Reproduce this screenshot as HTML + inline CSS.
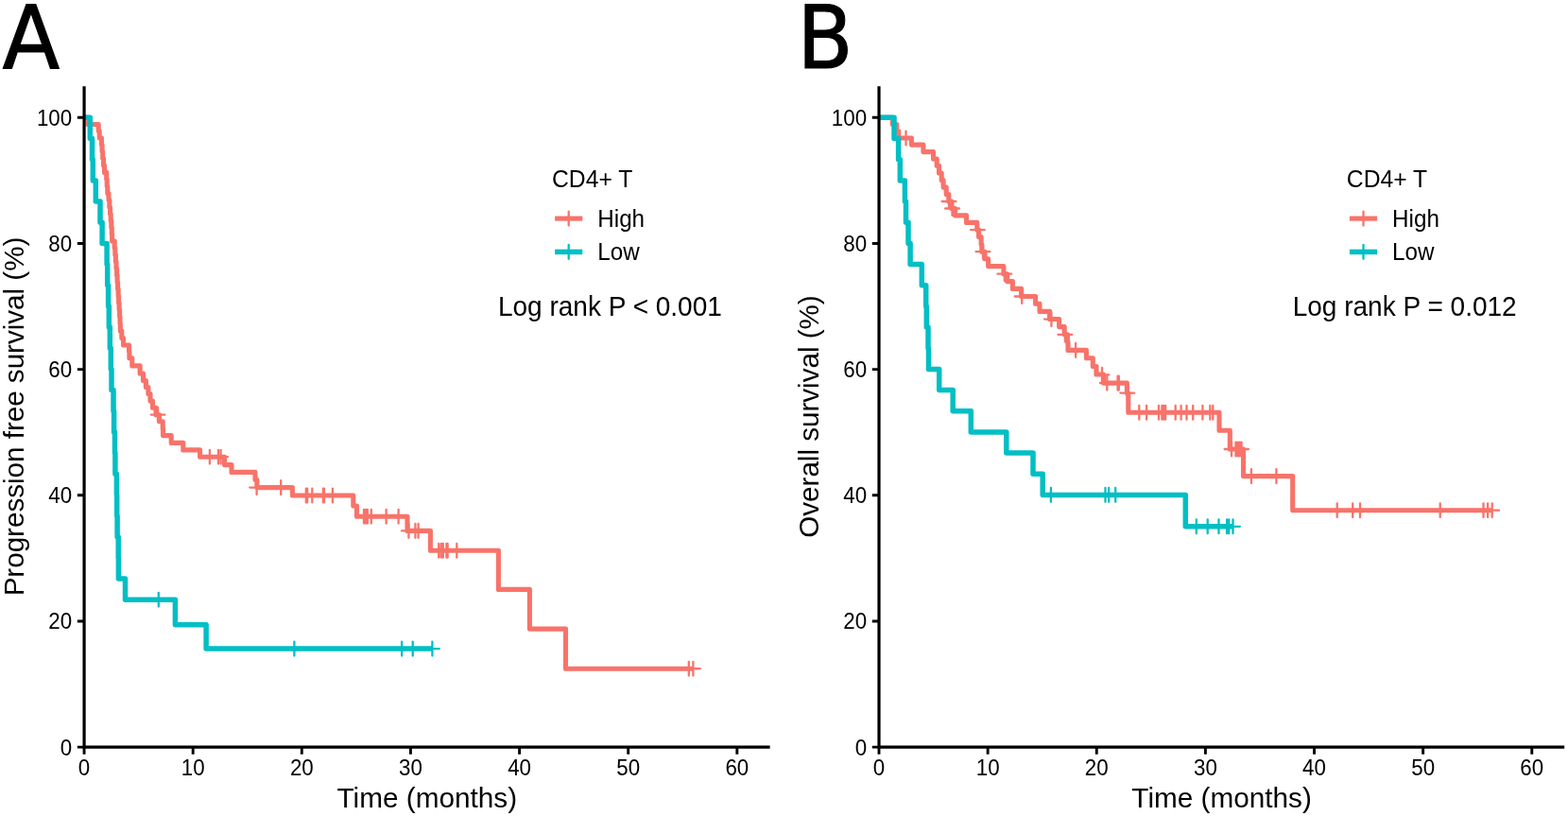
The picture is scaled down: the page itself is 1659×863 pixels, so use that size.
<!DOCTYPE html>
<html lang="en">
<head>
<meta charset="utf-8">
<title>Kaplan-Meier survival curves by CD4+ T level</title>
<style>
html,body{margin:0;padding:0;background:#fff;}
body{width:1659px;height:863px;overflow:hidden;}
svg{display:block;}
text{font-family:"Liberation Sans",Arial,Helvetica,sans-serif;fill:#000;}
.tk{font-size:22px;}
.at{font-size:29.6px;}
.lt{font-size:25.4px;}
.pv{font-size:28.3px;}
.pl{font-family:"DejaVu Sans","Liberation Sans",sans-serif;font-size:91.9px;stroke:#000;stroke-width:1.1px;stroke-linejoin:round;}
</style>
</head>
<body>
<svg width="1659" height="863" viewBox="0 0 1659 863">
<rect x="0" y="0" width="1659" height="863" fill="#ffffff"/>
<g id="panelA">
<text class="pl" transform="translate(2.6,71.5) scale(0.966,1)">A</text>
<path d="M89.05,124.30H93.00V131.50H104.20V138.60H105.20V145.80H107.40V153.00H108.00V160.30H108.70V167.50H109.50V175.00H110.50V182.40H112.70V189.60H113.20V197.00H113.80V204.50H115.00V211.60H115.80V219.00H116.50V226.20H117.20V233.50H117.80V240.70H118.30V247.90H118.60V255.00H121.20V262.30H121.80V269.50H122.40V276.80H123.00V284.00H123.60V291.20H124.10V298.50H124.60V305.80H125.10V313.00H125.60V320.30H126.10V327.60H126.60V334.90H127.00V342.30H127.30V350.00H128.80V357.50H130.50V365.00H136.50V371.80H136.90V378.80H139.80V386.90H148.10V395.00H151.50V402.50H154.40V409.50H156.90V416.60H159.00V424.00H161.50V431.30H165.00V438.70H168.50V445.80H172.20V453.20H172.50V460.60H181.20V468.40H193.80V475.90H211.60V483.20H237.50V491.60H245.00V499.40H270.00V507.50H271.90V515.60H309.40V524.00H373.80V535.00H377.50V546.20H431.00V561.40H455.40V582.30H527.40V623.40H560.40V665.10H598.50V707.20H733.40" fill="none" stroke="#F8736A" stroke-width="5.10" stroke-linejoin="round" stroke-linecap="butt"/>
<path d="M167.10,431.20V446.00M159.70,438.60H174.50M221.90,475.80V490.60M214.50,483.20H229.30M231.00,475.80V490.60M223.60,483.20H238.40M233.60,475.80V490.60M226.20,483.20H241.00M271.60,508.20V523.00M264.20,515.60H279.00M297.20,508.20V523.00M289.80,515.60H304.60M323.80,516.60V531.40M316.40,524.00H331.20M325.20,516.60V531.40M317.80,524.00H332.60M330.30,516.60V531.40M322.90,524.00H337.70M341.90,516.60V531.40M334.50,524.00H349.30M342.90,516.60V531.40M335.50,524.00H350.30M351.90,516.60V531.40M344.50,524.00H359.30M385.00,538.80V553.60M377.60,546.20H392.40M387.00,538.80V553.60M379.60,546.20H394.40M388.80,538.80V553.60M381.40,546.20H396.20M392.80,538.80V553.60M385.40,546.20H400.20M408.60,538.80V553.60M401.20,546.20H416.00M421.60,538.80V553.60M414.20,546.20H429.00M432.40,554.00V568.80M425.00,561.40H439.80M439.40,554.00V568.80M432.00,561.40H446.80M442.60,554.00V568.80M435.20,561.40H450.00M464.20,574.90V589.70M456.80,582.30H471.60M466.80,574.90V589.70M459.40,582.30H474.20M468.80,574.90V589.70M461.40,582.30H476.20M472.40,574.90V589.70M465.00,582.30H479.80M473.60,574.90V589.70M466.20,582.30H481.00M483.30,574.90V589.70M475.90,582.30H490.70M728.80,699.80V714.60M721.40,707.20H736.20M733.40,699.80V714.60M726.00,707.20H740.80" fill="none" stroke="#F8736A" stroke-width="2.30" stroke-linecap="round"/>
<path d="M89.05,124.30H95.30V146.50H97.50V168.70H98.30V190.90H101.30V213.00H106.00V235.20H108.10V257.40H113.10V279.60H113.70V301.70H114.60V323.90H115.30V346.10H116.30V368.20H117.30V390.40H118.00V412.60H120.00V434.70H120.60V456.90H121.50V479.10H121.90V501.20H123.40V523.40H123.70V545.60H124.10V567.70H125.20V589.90H125.40V612.10H132.50V634.20H185.40V660.70H218.10V686.10H457.40" fill="none" stroke="#00BFC4" stroke-width="5.50" stroke-linejoin="round" stroke-linecap="butt"/>
<path d="M167.80,626.80V641.60M160.40,634.20H175.20M311.40,678.70V693.50M304.00,686.10H318.80M425.10,678.70V693.50M417.70,686.10H432.50M436.70,678.70V693.50M429.30,686.10H444.10M457.40,678.70V693.50M450.00,686.10H464.80" fill="none" stroke="#00BFC4" stroke-width="2.30" stroke-linecap="round"/>
<path d="M89.05,91.20V790.10H814.60" fill="none" stroke="#000" stroke-width="3.20" stroke-linejoin="miter"/>
<path d="M81.85,790.10H89.05M81.85,656.94H89.05M81.85,523.78H89.05M81.85,390.62H89.05M81.85,257.46H89.05M81.85,124.30H89.05M89.05,790.10V797.80M204.18,790.10V797.80M319.31,790.10V797.80M434.44,790.10V797.80M549.57,790.10V797.80M664.70,790.10V797.80M779.83,790.10V797.80" fill="none" stroke="#000" stroke-width="2.90"/>
<text class="tk" transform="translate(76.15,798.50) scale(1.015,1.045)" text-anchor="end">0</text>
<text class="tk" transform="translate(76.15,665.34) scale(1.015,1.045)" text-anchor="end">20</text>
<text class="tk" transform="translate(76.15,532.18) scale(1.015,1.045)" text-anchor="end">40</text>
<text class="tk" transform="translate(76.15,399.02) scale(1.015,1.045)" text-anchor="end">60</text>
<text class="tk" transform="translate(76.15,265.86) scale(1.015,1.045)" text-anchor="end">80</text>
<text class="tk" transform="translate(76.15,132.70) scale(1.015,1.045)" text-anchor="end">100</text>
<text class="tk" transform="translate(89.05,820.20) scale(1.015,1.045)" text-anchor="middle">0</text>
<text class="tk" transform="translate(204.18,820.20) scale(1.015,1.045)" text-anchor="middle">10</text>
<text class="tk" transform="translate(319.31,820.20) scale(1.015,1.045)" text-anchor="middle">20</text>
<text class="tk" transform="translate(434.44,820.20) scale(1.015,1.045)" text-anchor="middle">30</text>
<text class="tk" transform="translate(549.57,820.20) scale(1.015,1.045)" text-anchor="middle">40</text>
<text class="tk" transform="translate(664.70,820.20) scale(1.015,1.045)" text-anchor="middle">50</text>
<text class="tk" transform="translate(779.83,820.20) scale(1.015,1.045)" text-anchor="middle">60</text>
<text class="at" transform="translate(451.8,853.8) scale(1.005,1.015)" text-anchor="middle">Time (months)</text>
<text class="at" transform="translate(24.8,440.5) rotate(-90) scale(1,1.02)" text-anchor="middle">Progression free survival (%)</text>
<text class="lt" transform="translate(584.00,198.3) scale(0.973,1.015)">CD4+ T</text>
<path d="M587.10,231.10H616.30" stroke="#F8736A" stroke-width="5.10" fill="none"/>
<path d="M601.70,223.70V238.50M594.30,231.10H609.10" stroke="#F8736A" stroke-width="2.30" fill="none" stroke-linecap="round"/>
<text class="lt" transform="translate(632.30,240.00) scale(0.953,1.0)">High</text>
<path d="M587.10,266.40H616.30" stroke="#00BFC4" stroke-width="5.50" fill="none"/>
<path d="M601.70,259.00V273.80M594.30,266.40H609.10" stroke="#00BFC4" stroke-width="2.30" fill="none" stroke-linecap="round"/>
<text class="lt" transform="translate(632.30,275.30) scale(0.953,1.0)">Low</text>
<text class="pv" transform="translate(526.90,334.3) scale(0.990,1.03)">Log rank P &lt; 0.001</text>
</g>
<g id="panelB">
<text class="pl" transform="translate(843.6,71.55) scale(0.936,1)">B</text>
<path d="M930.00,124.30H944.30V131.50H948.80V138.70H950.80V146.00H964.40V153.10H976.90V160.60H987.50V168.10H991.20V175.20H993.50V183.00H996.20V190.60H998.10V198.10H1001.20V205.60H1003.80V213.00H1006.90V220.50H1010.60V227.90H1022.50V235.40H1033.80V243.10H1035.60V250.60H1038.10V258.50H1038.80V266.20H1041.90V273.80H1045.60V281.60H1061.90V289.70H1065.60V297.60H1071.40V305.40H1080.60V313.50H1095.60V321.30H1100.00V329.40H1110.60V337.50H1120.60V345.60H1126.20V353.80H1129.40V362.00H1130.00V370.40H1149.40V378.70H1156.30V387.50H1160.00V396.00H1167.50V405.10H1192.40V415.70H1193.80V436.30H1290.00V455.30H1301.30V475.00H1315.50V503.60H1367.70V539.70H1578.70" fill="none" stroke="#F8736A" stroke-width="5.10" stroke-linejoin="round" stroke-linecap="butt"/>
<path d="M958.50,138.60V153.40M951.10,146.00H965.90M1004.00,205.60V220.40M996.60,213.00H1011.40M1007.50,213.10V227.90M1000.10,220.50H1014.90M1034.40,235.70V250.50M1027.00,243.10H1041.80M1040.00,258.80V273.60M1032.60,266.20H1047.40M1062.80,282.30V297.10M1055.40,289.70H1070.20M1081.20,306.10V320.90M1073.80,313.50H1088.60M1112.40,330.20V345.00M1105.00,337.60H1119.80M1126.90,346.50V361.30M1119.50,353.90H1134.30M1138.10,363.00V377.80M1130.70,370.40H1145.50M1166.00,389.00V403.80M1158.60,396.40H1173.40M1171.30,397.70V412.50M1163.90,405.10H1178.70M1182.60,397.70V412.50M1175.20,405.10H1190.00M1183.80,397.70V412.50M1176.40,405.10H1191.20M1192.80,408.30V423.10M1185.40,415.70H1200.20M1205.30,428.90V443.70M1197.90,436.30H1212.70M1213.10,428.90V443.70M1205.70,436.30H1220.50M1226.00,428.90V443.70M1218.60,436.30H1233.40M1229.40,428.90V443.70M1222.00,436.30H1236.80M1231.30,428.90V443.70M1223.90,436.30H1238.70M1233.10,428.90V443.70M1225.70,436.30H1240.50M1243.70,428.90V443.70M1236.30,436.30H1251.10M1249.60,428.90V443.70M1242.20,436.30H1257.00M1255.50,428.90V443.70M1248.10,436.30H1262.90M1262.20,428.90V443.70M1254.80,436.30H1269.60M1272.40,428.90V443.70M1265.00,436.30H1279.80M1280.30,428.90V443.70M1272.90,436.30H1287.70M1283.30,428.90V443.70M1275.90,436.30H1290.70M1303.00,467.60V482.40M1295.60,475.00H1310.40M1307.50,467.60V482.40M1300.10,475.00H1314.90M1309.50,467.60V482.40M1302.10,475.00H1316.90M1311.50,467.60V482.40M1304.10,475.00H1318.90M1313.50,467.60V482.40M1306.10,475.00H1320.90M1323.90,496.20V511.00M1316.50,503.60H1331.30M1350.40,496.20V511.00M1343.00,503.60H1357.80M1414.70,532.30V547.10M1407.30,539.70H1422.10M1431.20,532.30V547.10M1423.80,539.70H1438.60M1439.00,532.30V547.10M1431.60,539.70H1446.40M1523.70,532.30V547.10M1516.30,539.70H1531.10M1569.50,532.30V547.10M1562.10,539.70H1576.90M1574.10,532.30V547.10M1566.70,539.70H1581.50M1578.70,532.30V547.10M1571.30,539.70H1586.10" fill="none" stroke="#F8736A" stroke-width="2.30" stroke-linecap="round"/>
<path d="M930.00,124.30H946.00V146.50H950.60V168.70H952.30V190.90H957.40V213.00H958.50V235.20H961.00V257.40H963.10V279.60H975.30V301.70H979.70V323.90H980.30V346.10H982.00V368.20H982.50V390.40H993.70V412.60H1008.20V434.70H1027.30V456.90H1064.80V479.10H1093.00V501.20H1103.20V523.40H1254.30V556.80H1304.50" fill="none" stroke="#00BFC4" stroke-width="5.50" stroke-linejoin="round" stroke-linecap="butt"/>
<path d="M1111.90,516.00V530.80M1104.50,523.40H1119.30M1169.50,516.00V530.80M1162.10,523.40H1176.90M1173.10,516.00V530.80M1165.70,523.40H1180.50M1180.20,516.00V530.80M1172.80,523.40H1187.60M1265.80,549.40V564.20M1258.40,556.80H1273.20M1277.70,549.40V564.20M1270.30,556.80H1285.10M1289.50,549.40V564.20M1282.10,556.80H1296.90M1298.10,549.40V564.20M1290.70,556.80H1305.50M1300.20,549.40V564.20M1292.80,556.80H1307.60M1304.50,549.40V564.20M1297.10,556.80H1311.90" fill="none" stroke="#00BFC4" stroke-width="2.30" stroke-linecap="round"/>
<path d="M930.00,91.20V790.10H1655.20" fill="none" stroke="#000" stroke-width="3.20" stroke-linejoin="miter"/>
<path d="M922.80,790.10H930.00M922.80,656.94H930.00M922.80,523.78H930.00M922.80,390.62H930.00M922.80,257.46H930.00M922.80,124.30H930.00M930.00,790.10V797.80M1045.13,790.10V797.80M1160.26,790.10V797.80M1275.39,790.10V797.80M1390.52,790.10V797.80M1505.65,790.10V797.80M1620.78,790.10V797.80" fill="none" stroke="#000" stroke-width="2.90"/>
<text class="tk" transform="translate(917.10,798.50) scale(1.015,1.045)" text-anchor="end">0</text>
<text class="tk" transform="translate(917.10,665.34) scale(1.015,1.045)" text-anchor="end">20</text>
<text class="tk" transform="translate(917.10,532.18) scale(1.015,1.045)" text-anchor="end">40</text>
<text class="tk" transform="translate(917.10,399.02) scale(1.015,1.045)" text-anchor="end">60</text>
<text class="tk" transform="translate(917.10,265.86) scale(1.015,1.045)" text-anchor="end">80</text>
<text class="tk" transform="translate(917.10,132.70) scale(1.015,1.045)" text-anchor="end">100</text>
<text class="tk" transform="translate(930.00,820.20) scale(1.015,1.045)" text-anchor="middle">0</text>
<text class="tk" transform="translate(1045.13,820.20) scale(1.015,1.045)" text-anchor="middle">10</text>
<text class="tk" transform="translate(1160.26,820.20) scale(1.015,1.045)" text-anchor="middle">20</text>
<text class="tk" transform="translate(1275.39,820.20) scale(1.015,1.045)" text-anchor="middle">30</text>
<text class="tk" transform="translate(1390.52,820.20) scale(1.015,1.045)" text-anchor="middle">40</text>
<text class="tk" transform="translate(1505.65,820.20) scale(1.015,1.045)" text-anchor="middle">50</text>
<text class="tk" transform="translate(1620.78,820.20) scale(1.015,1.045)" text-anchor="middle">60</text>
<text class="at" transform="translate(1292.6,853.8) scale(1.005,1.015)" text-anchor="middle">Time (months)</text>
<text class="at" transform="translate(866.0,440.5) rotate(-90) scale(1,1.02)" text-anchor="middle">Overall survival (%)</text>
<text class="lt" transform="translate(1424.80,198.3) scale(0.973,1.015)">CD4+ T</text>
<path d="M1427.90,231.10H1457.10" stroke="#F8736A" stroke-width="5.10" fill="none"/>
<path d="M1442.50,223.70V238.50M1435.10,231.10H1449.90" stroke="#F8736A" stroke-width="2.30" fill="none" stroke-linecap="round"/>
<text class="lt" transform="translate(1473.10,240.00) scale(0.953,1.0)">High</text>
<path d="M1427.90,266.40H1457.10" stroke="#00BFC4" stroke-width="5.50" fill="none"/>
<path d="M1442.50,259.00V273.80M1435.10,266.40H1449.90" stroke="#00BFC4" stroke-width="2.30" fill="none" stroke-linecap="round"/>
<text class="lt" transform="translate(1473.10,275.30) scale(0.953,1.0)">Low</text>
<text class="pv" transform="translate(1367.70,334.3) scale(0.990,1.03)">Log rank P = 0.012</text>
</g>
</svg>
</body>
</html>
